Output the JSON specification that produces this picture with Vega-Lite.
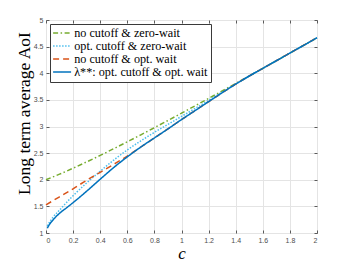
{
  "$schema": "https://vega.github.io/schema/vega-lite/v6.json",
  "width": 271,
  "height": 213,
  "autosize": {"type": "none"},
  "padding": {"left": 46, "top": 20, "right": 33, "bottom": 30},
  "background": "white",
  "config": {
    "font": "Liberation Serif",
    "view": {"stroke": "#7a7a7a", "strokeWidth": 1},
    "axis": {
      "labelFont": "Liberation Sans",
      "labelFontSize": 7,
      "labelColor": "#4d4d4d",
      "tickColor": "#5a5a5a",
      "tickSize": -3,
      "labelPadding": 6,
      "domain": false,
      "gridColor": "#e4e4e4",
      "gridWidth": 1,
      "titleFont": "Liberation Serif",
      "titleFontWeight": "normal",
      "titleColor": "#000000"
    },
    "legend": {
      "labelFont": "Liberation Serif",
      "labelFontSize": 12.2,
      "labelColor": "#000000"
    }
  },
  "data": {
    "values": [
      {"c": 0.0, "aoi": 2.000, "policy": "no cutoff & zero-wait"},
      {"c": 0.1, "aoi": 2.105, "policy": "no cutoff & zero-wait"},
      {"c": 0.2, "aoi": 2.217, "policy": "no cutoff & zero-wait"},
      {"c": 0.3, "aoi": 2.335, "policy": "no cutoff & zero-wait"},
      {"c": 0.4, "aoi": 2.457, "policy": "no cutoff & zero-wait"},
      {"c": 0.5, "aoi": 2.583, "policy": "no cutoff & zero-wait"},
      {"c": 0.6, "aoi": 2.713, "policy": "no cutoff & zero-wait"},
      {"c": 0.7, "aoi": 2.844, "policy": "no cutoff & zero-wait"},
      {"c": 0.8, "aoi": 2.978, "policy": "no cutoff & zero-wait"},
      {"c": 0.9, "aoi": 3.113, "policy": "no cutoff & zero-wait"},
      {"c": 1.0, "aoi": 3.250, "policy": "no cutoff & zero-wait"},
      {"c": 1.1, "aoi": 3.388, "policy": "no cutoff & zero-wait"},
      {"c": 1.2, "aoi": 3.527, "policy": "no cutoff & zero-wait"},
      {"c": 1.3, "aoi": 3.667, "policy": "no cutoff & zero-wait"},
      {"c": 1.4, "aoi": 3.808, "policy": "no cutoff & zero-wait"},
      {"c": 1.5, "aoi": 3.950, "policy": "no cutoff & zero-wait"},
      {"c": 1.6, "aoi": 4.092, "policy": "no cutoff & zero-wait"},
      {"c": 1.7, "aoi": 4.235, "policy": "no cutoff & zero-wait"},
      {"c": 1.8, "aoi": 4.379, "policy": "no cutoff & zero-wait"},
      {"c": 1.9, "aoi": 4.522, "policy": "no cutoff & zero-wait"},
      {"c": 2.0, "aoi": 4.667, "policy": "no cutoff & zero-wait"},

      {"c": 0.01, "aoi": 1.13, "policy": "opt. cutoff & zero-wait"},
      {"c": 0.03, "aoi": 1.22, "policy": "opt. cutoff & zero-wait"},
      {"c": 0.05, "aoi": 1.29, "policy": "opt. cutoff & zero-wait"},
      {"c": 0.1, "aoi": 1.43, "policy": "opt. cutoff & zero-wait"},
      {"c": 0.15, "aoi": 1.57, "policy": "opt. cutoff & zero-wait"},
      {"c": 0.2, "aoi": 1.70, "policy": "opt. cutoff & zero-wait"},
      {"c": 0.3, "aoi": 1.94, "policy": "opt. cutoff & zero-wait"},
      {"c": 0.4, "aoi": 2.16, "policy": "opt. cutoff & zero-wait"},
      {"c": 0.5, "aoi": 2.37, "policy": "opt. cutoff & zero-wait"},
      {"c": 0.6, "aoi": 2.56, "policy": "opt. cutoff & zero-wait"},
      {"c": 0.7, "aoi": 2.73, "policy": "opt. cutoff & zero-wait"},
      {"c": 0.8, "aoi": 2.89, "policy": "opt. cutoff & zero-wait"},
      {"c": 0.9, "aoi": 3.04, "policy": "opt. cutoff & zero-wait"},
      {"c": 1.0, "aoi": 3.19, "policy": "opt. cutoff & zero-wait"},
      {"c": 1.1, "aoi": 3.338, "policy": "opt. cutoff & zero-wait"},
      {"c": 1.2, "aoi": 3.492, "policy": "opt. cutoff & zero-wait"},
      {"c": 1.3, "aoi": 3.647, "policy": "opt. cutoff & zero-wait"},
      {"c": 1.4, "aoi": 3.80, "policy": "opt. cutoff & zero-wait"},
      {"c": 1.5, "aoi": 3.95, "policy": "opt. cutoff & zero-wait"},
      {"c": 1.6, "aoi": 4.092, "policy": "opt. cutoff & zero-wait"},
      {"c": 1.7, "aoi": 4.235, "policy": "opt. cutoff & zero-wait"},
      {"c": 1.8, "aoi": 4.379, "policy": "opt. cutoff & zero-wait"},
      {"c": 1.9, "aoi": 4.522, "policy": "opt. cutoff & zero-wait"},
      {"c": 2.0, "aoi": 4.667, "policy": "opt. cutoff & zero-wait"},

      {"c": 0.0, "aoi": 1.53, "policy": "no cutoff & opt. wait"},
      {"c": 0.1, "aoi": 1.68, "policy": "no cutoff & opt. wait"},
      {"c": 0.2, "aoi": 1.83, "policy": "no cutoff & opt. wait"},
      {"c": 0.3, "aoi": 1.99, "policy": "no cutoff & opt. wait"},
      {"c": 0.4, "aoi": 2.14, "policy": "no cutoff & opt. wait"},
      {"c": 0.5, "aoi": 2.29, "policy": "no cutoff & opt. wait"},
      {"c": 0.6, "aoi": 2.445, "policy": "no cutoff & opt. wait"},
      {"c": 0.7, "aoi": 2.615, "policy": "no cutoff & opt. wait"},
      {"c": 0.8, "aoi": 2.785, "policy": "no cutoff & opt. wait"},
      {"c": 0.9, "aoi": 2.955, "policy": "no cutoff & opt. wait"},
      {"c": 1.0, "aoi": 3.13, "policy": "no cutoff & opt. wait"},
      {"c": 1.1, "aoi": 3.298, "policy": "no cutoff & opt. wait"},
      {"c": 1.2, "aoi": 3.467, "policy": "no cutoff & opt. wait"},
      {"c": 1.3, "aoi": 3.634, "policy": "no cutoff & opt. wait"},
      {"c": 1.4, "aoi": 3.796, "policy": "no cutoff & opt. wait"},
      {"c": 1.5, "aoi": 3.948, "policy": "no cutoff & opt. wait"},
      {"c": 1.6, "aoi": 4.092, "policy": "no cutoff & opt. wait"},
      {"c": 1.7, "aoi": 4.235, "policy": "no cutoff & opt. wait"},
      {"c": 1.8, "aoi": 4.379, "policy": "no cutoff & opt. wait"},
      {"c": 1.9, "aoi": 4.522, "policy": "no cutoff & opt. wait"},
      {"c": 2.0, "aoi": 4.667, "policy": "no cutoff & opt. wait"},

      {"c": 0.01, "aoi": 1.09, "policy": "λ**: opt. cutoff & opt. wait"},
      {"c": 0.02, "aoi": 1.14, "policy": "λ**: opt. cutoff & opt. wait"},
      {"c": 0.04, "aoi": 1.21, "policy": "λ**: opt. cutoff & opt. wait"},
      {"c": 0.06, "aoi": 1.27, "policy": "λ**: opt. cutoff & opt. wait"},
      {"c": 0.1, "aoi": 1.37, "policy": "λ**: opt. cutoff & opt. wait"},
      {"c": 0.15, "aoi": 1.47, "policy": "λ**: opt. cutoff & opt. wait"},
      {"c": 0.2, "aoi": 1.57, "policy": "λ**: opt. cutoff & opt. wait"},
      {"c": 0.3, "aoi": 1.785, "policy": "λ**: opt. cutoff & opt. wait"},
      {"c": 0.4, "aoi": 2.01, "policy": "λ**: opt. cutoff & opt. wait"},
      {"c": 0.5, "aoi": 2.23, "policy": "λ**: opt. cutoff & opt. wait"},
      {"c": 0.6, "aoi": 2.43, "policy": "λ**: opt. cutoff & opt. wait"},
      {"c": 0.7, "aoi": 2.615, "policy": "λ**: opt. cutoff & opt. wait"},
      {"c": 0.8, "aoi": 2.785, "policy": "λ**: opt. cutoff & opt. wait"},
      {"c": 0.9, "aoi": 2.955, "policy": "λ**: opt. cutoff & opt. wait"},
      {"c": 1.0, "aoi": 3.13, "policy": "λ**: opt. cutoff & opt. wait"},
      {"c": 1.1, "aoi": 3.298, "policy": "λ**: opt. cutoff & opt. wait"},
      {"c": 1.2, "aoi": 3.467, "policy": "λ**: opt. cutoff & opt. wait"},
      {"c": 1.3, "aoi": 3.634, "policy": "λ**: opt. cutoff & opt. wait"},
      {"c": 1.4, "aoi": 3.796, "policy": "λ**: opt. cutoff & opt. wait"},
      {"c": 1.5, "aoi": 3.948, "policy": "λ**: opt. cutoff & opt. wait"},
      {"c": 1.6, "aoi": 4.092, "policy": "λ**: opt. cutoff & opt. wait"},
      {"c": 1.7, "aoi": 4.235, "policy": "λ**: opt. cutoff & opt. wait"},
      {"c": 1.8, "aoi": 4.379, "policy": "λ**: opt. cutoff & opt. wait"},
      {"c": 1.9, "aoi": 4.522, "policy": "λ**: opt. cutoff & opt. wait"},
      {"c": 2.0, "aoi": 4.667, "policy": "λ**: opt. cutoff & opt. wait"}
    ]
  },
  "layer": [
    {
      "mark": {"type": "line", "strokeWidth": 1.5, "interpolate": "monotone"},
      "encoding": {
        "x": {
          "field": "c", "type": "quantitative",
          "scale": {"domain": [0, 2], "nice": false, "zero": false},
          "axis": {
            "values": [0, 0.2, 0.4, 0.6, 0.8, 1, 1.2, 1.4, 1.6, 1.8, 2],
            "format": "~g",
            "title": "c",
            "titleFontStyle": "italic",
            "titleFontSize": 17,
            "titleBaseline": "alphabetic",
            "titleY": 25
          }
        },
        "y": {
          "field": "aoi", "type": "quantitative",
          "scale": {"domain": [1, 5], "nice": false, "zero": false},
          "axis": {
            "values": [1, 1.5, 2, 2.5, 3, 3.5, 4, 4.5, 5],
            "format": "~g",
            "title": "Long term average AoI",
            "titleFontSize": 17.5,
            "titleAngle": 270,
            "titleBaseline": "middle",
            "titleAlign": "center",
            "titleX": -22,
            "titleY": 93
          }
        },
        "color": {
          "field": "policy", "type": "nominal",
          "scale": {
            "domain": ["no cutoff & zero-wait", "opt. cutoff & zero-wait", "no cutoff & opt. wait", "λ**: opt. cutoff & opt. wait"],
            "range": ["#77AC30", "#4DBEEE", "#D95319", "#0072BD"]
          },
          "legend": {
            "title": null,
            "orient": "none",
            "legendX": 4,
            "legendY": 4,
            "fillColor": "white",
            "strokeColor": "#3a3a3a",
            "padding": 3,
            "labelFont": "Liberation Serif",
            "labelFontSize": 12.2,
            "labelColor": "#000000",
            "labelLimit": 300,
            "symbolType": "M-1.8,0H1.8",
            "symbolSize": 100,
            "symbolStrokeWidth": 1.5,
            "symbolFillColor": "transparent",
            "symbolOffset": 3,
            "rowPadding": 0,
            "labelOffset": 6
          }
        },
        "strokeDash": {
          "field": "policy", "type": "nominal",
          "scale": {
            "domain": ["no cutoff & zero-wait", "opt. cutoff & zero-wait", "no cutoff & opt. wait", "λ**: opt. cutoff & opt. wait"],
            "range": [[5, 2.5, 1.5, 2.5], [1.5, 1.5], [6, 4], [1, 0]]
          },
          "legend": null
        }
      }
    },
    {
      "mark": {"type": "line", "opacity": 0},
      "encoding": {
        "x": {
          "field": "c", "type": "quantitative",
          "axis": {"orient": "top", "labels": false, "grid": false, "title": null,
                   "values": [0, 0.2, 0.4, 0.6, 0.8, 1, 1.2, 1.4, 1.6, 1.8, 2]}
        },
        "y": {
          "field": "aoi", "type": "quantitative",
          "axis": {"orient": "right", "labels": false, "grid": false, "title": null,
                   "values": [1, 1.5, 2, 2.5, 3, 3.5, 4, 4.5, 5]}
        }
      }
    }
  ],
  "resolve": {"axis": {"x": "independent", "y": "independent"}}
}
